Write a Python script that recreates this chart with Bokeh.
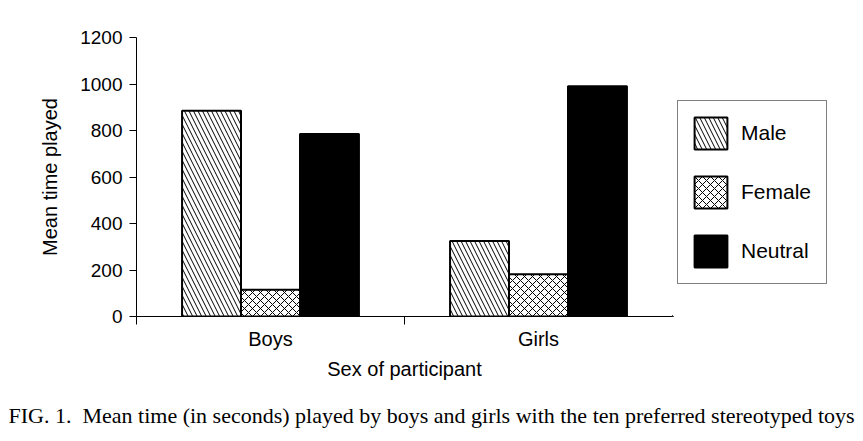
from bokeh.plotting import figure
from bokeh.models import Range1d, FixedTicker, Legend, LegendItem, Title
from bokeh.layouts import row, column
from bokeh.embed import file_html
from bokeh.resources import INLINE

# ---- data ----
sexes = ["Boys", "Girls"]
toy_types = ["Male", "Female", "Neutral"]
male = [885, 325]
female = [115, 182]
neutral = [785, 990]
y_ticks = [0, 200, 400, 600, 800, 1000, 1200]
x_title = "Sex of participant"
y_title = "Mean time played"
caption = "FIG. 1.\u00a0 Mean time (in seconds) played by boys and girls with the ten preferred stereotyped toys"

SANS = "Liberation Sans"
SERIF = "Liberation Serif"

TOP, BOTTOM = 37, 69
CHART_H = 385
p = figure(width=672, height=CHART_H,
           x_range=Range1d(0, len(sexes)), y_range=Range1d(0, 1200),
           output_backend="svg", toolbar_location=None,
           min_border_left=136, min_border_right=0,
           min_border_top=TOP, min_border_bottom=BOTTOM)
p.outline_line_color = None
p.grid.visible = False
p.background_fill_color = "white"
p.border_fill_color = "white"

bar_w = 0.22
offsets = [-bar_w, 0.0, bar_w]
series = [male, female, neutral]
styles = [
    dict(fill_color="white", hatch_pattern="\\", hatch_scale=9, hatch_weight=1, hatch_color="black"),
    dict(fill_color="white", hatch_pattern="x", hatch_scale=8, hatch_weight=1, hatch_color="black"),
    dict(fill_color="black"),
]
for vals, off, st in zip(series, offsets, styles):
    xs = [i + 0.5 + off for i in range(len(sexes))]
    p.vbar(x=xs, top=vals, bottom=0, width=bar_w, line_color="black", line_width=2, **st)

# x axis
xa = p.xaxis[0]
xa.ticker = FixedTicker(ticks=[i + 0.5 for i in range(len(sexes))],
                        minor_ticks=list(range(len(sexes) + 1)))
xa.major_label_overrides = {i + 0.5: s for i, s in enumerate(sexes)}
xa.major_tick_out = 0
xa.major_tick_in = 0
xa.minor_tick_out = 8
xa.minor_tick_in = 0
xa.minor_tick_line_color = "black"
xa.axis_line_color = "black"
xa.major_label_text_font = SANS
xa.major_label_text_font_size = "20px"
xa.major_label_text_color = "black"
xa.major_label_standoff = 3
xa.axis_label = x_title
xa.axis_label_text_font = SANS
xa.axis_label_text_font_size = "20px"
xa.axis_label_text_font_style = "normal"
xa.axis_label_text_color = "black"
xa.axis_label_standoff = 5

# y axis
ya = p.yaxis[0]
ya.ticker = FixedTicker(ticks=y_ticks)
ya.major_tick_out = 7
ya.major_tick_in = 0
ya.major_tick_line_color = "black"
ya.minor_tick_line_color = None
ya.axis_line_color = "black"
ya.major_label_text_font = SANS
ya.major_label_text_font_size = "19px"
ya.major_label_text_color = "black"
ya.major_label_standoff = 7
ya.axis_label = y_title
ya.axis_label_text_font = SANS
ya.axis_label_text_font_size = "20px"
ya.axis_label_text_font_style = "normal"
ya.axis_label_text_color = "black"
ya.axis_label_standoff = 16

# legend panel (same series, drawn far outside its visible ranges; used only as legend keys)
lf = figure(width=191, height=CHART_H, x_range=Range1d(100, 101), y_range=Range1d(5000, 6000),
            output_backend="svg", toolbar_location=None,
            min_border_left=0, min_border_right=0,
            min_border_top=TOP, min_border_bottom=BOTTOM,
            x_axis_type=None, y_axis_type=None)
lf.outline_line_color = None
lf.grid.visible = False
keys = []
for vals, off, st in zip(series, offsets, styles):
    xs = [i + 0.5 + off for i in range(len(sexes))]
    keys.append(lf.vbar(x=xs, top=vals, bottom=0, width=bar_w, line_color="black", line_width=2, **st))

legend = Legend(items=[LegendItem(label=t, renderers=[r]) for t, r in zip(toy_types, keys)],
                location=(5, 32))
legend.border_line_color = "black"
legend.border_line_width = 1.5
legend.background_fill_color = "white"
legend.background_fill_alpha = 1
legend.padding = 12
legend.spacing = 19
legend.margin = 0
legend.glyph_width = 41
legend.glyph_height = 40
legend.label_standoff = 10
legend.label_width = 73
legend.label_text_font = SANS
legend.label_text_font_size = "21px"
legend.label_text_color = "black"
legend.label_text_baseline = "middle"
lf.add_layout(legend)

# caption strip
cf = figure(width=863, height=56, x_range=Range1d(0, 1), y_range=Range1d(0, 1),
            output_backend="svg", toolbar_location=None,
            min_border_left=136, min_border_right=191,
            min_border_top=42, min_border_bottom=0,
            x_axis_type=None, y_axis_type=None)
cf.outline_line_color = None
cf.grid.visible = False
cf.title = Title(text=caption, align="left", offset=-128, standoff=0,
                 text_font=SERIF, text_font_size="22px", text_font_style="normal",
                 text_color="black")

layout = column(row(p, lf), cf)
open("out.html", "w").write(file_html(layout, INLINE))
